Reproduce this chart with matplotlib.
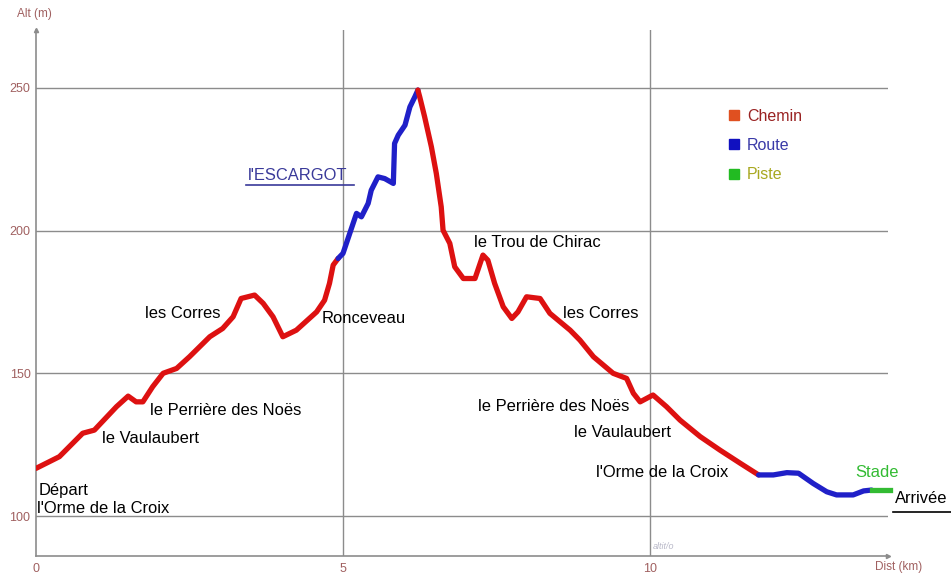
import matplotlib
matplotlib.use("Agg")
import matplotlib.pyplot as plt
from matplotlib.lines import Line2D

plt.rcParams['font.family'] = ['Liberation Sans', 'DejaVu Sans']

# profile segments: distance (km), altitude (m)
chemin1_x = [0.00, 0.38, 0.76, 0.95, 1.31, 1.50, 1.63, 1.74, 1.90, 2.07, 2.29, 2.50, 2.83, 3.04,
             3.21, 3.34, 3.56, 3.70, 3.86, 4.02, 4.24, 4.57, 4.70, 4.78, 4.84, 4.92]
chemin1_y = [116.7, 120.8, 129.0, 130.1, 138.3, 142.0, 140.0, 140.0, 145.3, 150.0, 151.7, 155.8,
             162.8, 165.7, 169.8, 176.2, 177.4, 174.5, 169.8, 162.8, 165.1, 171.5, 175.6, 181.5,
             187.9, 190.2]

route1_x = [4.92, 5.00, 5.11, 5.22, 5.30, 5.41, 5.46, 5.57, 5.68, 5.82, 5.84, 5.90, 6.01, 6.09,
            6.17, 6.22]
route1_y = [190.2, 192.0, 199.0, 206.0, 204.8, 209.5, 214.1, 218.8, 218.2, 216.5, 230.5, 233.4,
            236.9, 243.3, 246.8, 249.2]

chemin2_x = [6.22, 6.25, 6.33, 6.44, 6.52, 6.60, 6.63, 6.74, 6.82, 6.96, 7.15, 7.28, 7.36, 7.47,
             7.61, 7.75, 7.85, 7.99, 8.21, 8.37, 8.70, 8.86, 9.08, 9.40, 9.62, 9.73, 9.84, 10.05,
             10.27, 10.49, 10.82, 11.14, 11.47, 11.77]
chemin2_y = [249.2, 246.8, 239.8, 229.3, 220.0, 208.3, 200.1, 195.5, 187.3, 183.2, 183.2, 191.4,
             189.6, 181.5, 173.3, 169.2, 171.5, 176.8, 176.2, 171.0, 165.1, 161.6, 155.8, 150.0,
             148.2, 143.0, 140.0, 142.4, 138.3, 133.6, 127.8, 123.1, 118.5, 114.4]

route2_x = [11.77, 12.01, 12.23, 12.42, 12.66, 12.88, 13.04, 13.31, 13.48, 13.61]
route2_y = [114.4, 114.4, 115.2, 115.0, 111.4, 108.5, 107.4, 107.4, 108.8, 109.1]

piste_x = [13.61, 13.91]
piste_y = [109.1, 109.1]

x_ticks = [0, 5, 10]
y_ticks = [100, 150, 200, 250]

# place names: text, km, alt
places = [
    ("les Corres", 1.77, 171.1),
    ("Ronceveau", 4.65, 169.3),
    ("le Trou de Chirac", 7.13, 195.9),
    ("les Corres", 8.58, 171.1),
    ("le Perrière des Noës", 1.85, 137.1),
    ("le Vaulaubert", 1.08, 127.3),
    ("Départ", 0.04, 109.1),
    ("l'Orme de la Croix", 0.01, 102.8),
    ("le Perrière des Noës", 7.20, 138.2),
    ("le Vaulaubert", 8.76, 129.4),
    ("l'Orme de la Croix", 9.12, 115.4),
]

red = '#dd1111'
blue = '#2020c8'
green = '#33bb33'
grey = '#8c8c8c'
tick_col = '#a06060'
fs = 11.9

fig = plt.figure(figsize=(9.51, 5.76), dpi=100)
ax = fig.add_axes([0.0379, 0.0347, 0.896, 0.913])
ax.set_xlim(0, 13.88)
ax.set_ylim(86.0, 270.2)

for y in y_ticks:
    ax.axhline(y, color=grey, lw=1, zorder=1)
for x in x_ticks[1:]:
    ax.axvline(x, color=grey, lw=1, zorder=1)

lw = 3.8
ax.plot(chemin1_x, chemin1_y, color=red, lw=lw, solid_capstyle='round', zorder=3)
ax.plot(route1_x, route1_y, color=blue, lw=lw, solid_capstyle='round', zorder=3)
ax.plot(chemin2_x, chemin2_y, color=red, lw=lw, solid_capstyle='round', zorder=3)
ax.plot(route2_x, route2_y, color=blue, lw=lw, solid_capstyle='round', zorder=3)
ax.plot(piste_x, piste_y, color=green, lw=lw, clip_on=False, zorder=3)

for s in ['top', 'right']:
    ax.spines[s].set_visible(False)
for s in ['left', 'bottom']:
    ax.spines[s].set_color(grey)
    ax.spines[s].set_linewidth(1.2)
ax.plot(1, 0, ">", color=grey, ms=3, transform=ax.transAxes, clip_on=False)
ax.plot(0, 1, "^", color=grey, ms=3, transform=ax.transAxes, clip_on=False)

ax.set_xticks(x_ticks)
ax.set_yticks(y_ticks)
ax.tick_params(length=0, colors=tick_col, labelsize=9, pad=5)
ax.tick_params(axis='y', pad=4)

fig.text(17 / 951, 1 - 14 / 576, "Alt (m)", fontsize=8.5, color=tick_col, va='center')
fig.text(875 / 951, 1 - 567 / 576, "Dist (km)", fontsize=8.5, color=tick_col, va='center')
ax.text(10.05, 88.5, "altit/o", fontsize=6.5, color='#b8b8c8', style='italic')

for name, x, y in places:
    ax.text(x, y, name, fontsize=fs, color='black', ha='left', va='center', zorder=4)

ax.text(3.45, 219.4, "l'ESCARGOT", fontsize=fs, color='#3a3a9a', ha='left', va='center')
ax.plot([3.42, 5.18], [216.0, 216.0], color='#3a3a9a', lw=1.2)
ax.text(13.34, 115.4, "Stade", fontsize=fs, color=green, ha='left', va='center')
ax.text(13.99, 106.3, "Arrivée", fontsize=fs, color='black', ha='left', va='center', clip_on=False)
ax.plot([13.96, 14.90], [101.3, 101.3], color='black', lw=1.2, clip_on=False)

handles = [Line2D([], [], marker='s', ls='none', color=c, ms=7.5)
           for c in ['#e05020', '#1010c0', '#22bb22']]
leg = ax.legend(handles, ["Chemin", "Route", "Piste"], loc='upper left',
                bbox_to_anchor=(0.795, 0.878), frameon=False, fontsize=11.5,
                handletextpad=0.4, labelspacing=0.9, handlelength=0.8,
                labelcolor=['#992222', '#3a3aa8', '#a8a820'])

fig.savefig("out.png", dpi=100)
